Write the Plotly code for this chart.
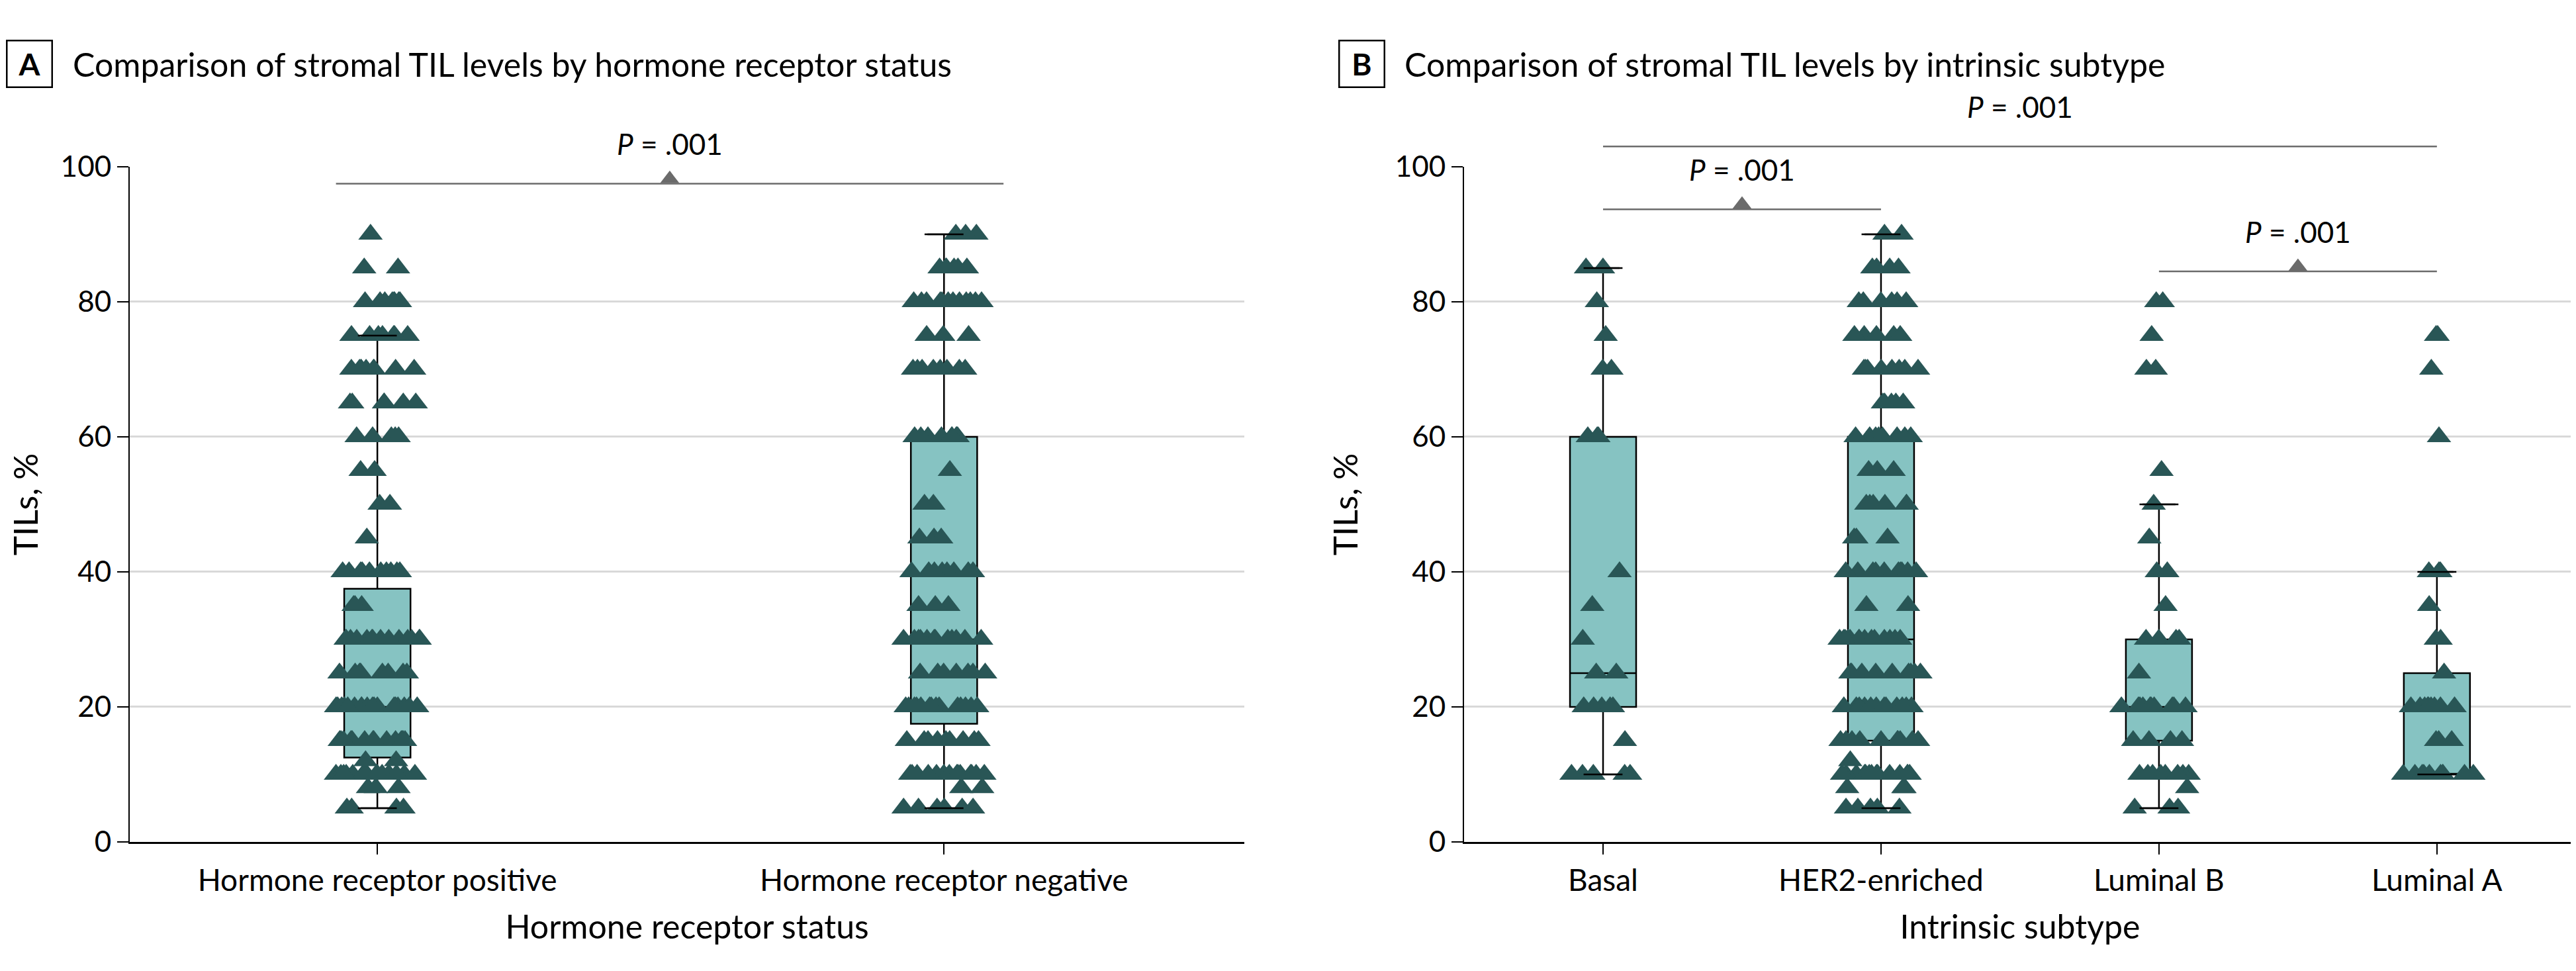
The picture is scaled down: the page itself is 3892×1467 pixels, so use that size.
import plotly.graph_objects as go

# ---------------- data ----------------
hr_categories = ["Hormone receptor positive", "Hormone receptor negative"]
subtype_categories = ["Basal", "HER2-enriched", "Luminal B", "Luminal A"]
y_ticks = [0, 20, 40, 60, 80, 100]

# stromal TIL level (%) and number of patients at that level
hr_pos_levels = [90, 85, 80, 75, 70, 65, 60, 55, 50, 45, 40, 35, 30, 25, 20, 15, 12, 10, 8, 5]
hr_pos_counts = [1, 2, 8, 7, 9, 6, 5, 2, 2, 1, 10, 3, 14, 8, 18, 14, 2, 18, 3, 4]

hr_neg_levels = [90, 85, 80, 75, 70, 60, 55, 50, 45, 40, 35, 30, 25, 20, 15, 10, 8, 5]
hr_neg_counts = [3, 6, 12, 3, 8, 9, 1, 2, 3, 8, 3, 12, 7, 14, 9, 14, 2, 6]

basal_levels = [85, 80, 75, 70, 60, 40, 35, 30, 25, 20, 15, 10]
basal_counts = [2, 1, 1, 2, 3, 1, 1, 1, 2, 5, 1, 5]

her2_levels = [90, 85, 80, 75, 70, 65, 60, 55, 50, 45, 40, 35, 30, 25, 20, 15, 12, 10, 8, 5]
her2_counts = [2, 4, 6, 5, 8, 5, 8, 3, 6, 3, 10, 2, 14, 9, 12, 10, 1, 14, 3, 5]

lumb_levels = [80, 75, 70, 55, 50, 45, 40, 35, 30, 25, 20, 15, 10, 8, 5]
lumb_counts = [2, 1, 2, 1, 1, 1, 2, 1, 4, 1, 10, 4, 8, 1, 3]

luma_levels = [75, 70, 60, 40, 35, 30, 25, 20, 15, 10]
luma_counts = [2, 1, 1, 3, 1, 2, 1, 9, 3, 10]

# box-plot summaries
hr_lower = [5, 5]
hr_q1 = [12.5, 17.5]
hr_median = [20, 30]
hr_q3 = [37.5, 60]
hr_upper = [75, 90]

st_lower = [10, 5, 5, 10]
st_q1 = [20, 15, 15, 10]
st_median = [25, 30, 20, 10]
st_q3 = [60, 60, 30, 25]
st_upper = [85, 90, 50, 40]

# pairwise comparisons: (first, second, P value text)
hr_comparisons = [("Hormone receptor positive", "Hormone receptor negative", ".001")]
st_comparisons = [
    ("Basal", "Luminal A", ".001"),
    ("Basal", "HER2-enriched", ".001"),
    ("Luminal B", "Luminal A", ".001"),
]

# ---------------- style ----------------
FONT = "Lato, 'Open Sans', sans-serif"
TEAL = "#295656"
BOXFILL = "#86c3c2"
GRID = "#d9d9d9"
BRACKET = "#6b6b6b"
XTICK_SIZE = 46
YTICK_SIZE = 44
P_SIZE = 44
TITLE_SIZE = 50
AXTITLE_SIZE = 50
PT_SIZE = 32

W, H = 3892, 1467
YDOM = [0.1384, 0.8337]
XDOM_A = [0.0483, 0.4810]
XDOM_B = [0.5663, 0.9979]
XRANGE_A = [-0.437, 1.53]
XRANGE_B = [-0.5, 3.5]

# bracket heights (data units), label lift, ends padding
hr_bracket_y = [97.5]
hr_bracket_pad = [(-0.073, 0.105)]
st_bracket_y = [103.0, 93.7, 84.5]
st_bracket_pad = [(0, 0), (0, 0), (0, 0)]
LABEL_LIFT = 5.9


def expand(levels, counts):
    out = []
    for v, c in zip(levels, counts):
        out += [v] * c
    return out


def ypaper(v):
    return YDOM[0] + v / 100.0 * (YDOM[1] - YDOM[0])


fig = go.Figure()


def add_panel(xa, ya, cats, groups, lower, q1, med, q3, upper, box_w, pt_w):
    # box with precomputed statistics
    fig.add_trace(go.Box(
        x=cats, q1=q1, median=med, q3=q3, lowerfence=lower, upperfence=upper,
        fillcolor=BOXFILL, line=dict(color="black", width=2.5),
        width=box_w, boxpoints=False, xaxis=xa, yaxis=ya, showlegend=False,
        hoverinfo="skip"))
    # individual patients, jittered by plotly
    xs, ys = [], []
    for c, vals in zip(cats, groups):
        xs += [c] * len(vals)
        ys += vals
    fig.add_trace(go.Box(
        x=xs, y=ys, boxpoints="all", jitter=1, pointpos=0, width=pt_w,
        fillcolor="rgba(0,0,0,0)", line=dict(color="rgba(0,0,0,0)", width=0),
        marker=dict(symbol="triangle-up", size=PT_SIZE, color=TEAL, line=dict(width=0)),
        xaxis=xa, yaxis=ya, showlegend=False))
    # whisker caps
    fig.add_trace(go.Scatter(
        x=list(cats) + list(cats), y=list(upper) + list(lower), mode="markers",
        marker=dict(symbol="line-ew", size=42, color="black",
                    line=dict(width=2.5, color="black")),
        xaxis=xa, yaxis=ya, showlegend=False, cliponaxis=False, hoverinfo="skip"))


add_panel("x", "y", hr_categories,
          [expand(hr_pos_levels, hr_pos_counts), expand(hr_neg_levels, hr_neg_counts)],
          hr_lower, hr_q1, hr_median, hr_q3, hr_upper, 0.117, 0.15)
add_panel("x2", "y2", subtype_categories,
          [expand(basal_levels, basal_counts), expand(her2_levels, her2_counts),
           expand(lumb_levels, lumb_counts), expand(luma_levels, luma_counts)],
          st_lower, st_q1, st_median, st_q3, st_upper, 0.238, 0.30)

shapes, annotations = [], []


def add_brackets(xa, xa_lin, ya, cats, comps, heights, pads):
    mx, my = [], []
    for (a, b, p), h, (pa, pb) in zip(comps, heights, pads):
        i0, i1 = cats.index(a), cats.index(b)
        x0, x1 = i0 + pa, i1 + pb
        shapes.append(dict(type="line", xref=xa, yref="paper", x0=x0, x1=x1,
                           y0=ypaper(h), y1=ypaper(h),
                           line=dict(color=BRACKET, width=2.5)))
        xm = (x0 + x1) / 2
        mx.append(xm)
        my.append(h + 0.7)
        annotations.append(dict(xref=xa, yref="paper", x=xm, y=ypaper(h + LABEL_LIFT),
                                text="<i>P</i> = " + p, showarrow=False,
                                xanchor="center", yanchor="middle",
                                font=dict(size=P_SIZE, color="black", family=FONT)))
    fig.add_trace(go.Scatter(x=mx, y=my, mode="markers", xaxis=xa_lin, yaxis=ya,
                             marker=dict(symbol="triangle-up", size=25, color=BRACKET),
                             cliponaxis=False, showlegend=False, hoverinfo="skip"))


add_brackets("x", "x3", "y", hr_categories, hr_comparisons, hr_bracket_y, hr_bracket_pad)
add_brackets("x2", "x4", "y2", subtype_categories, st_comparisons, st_bracket_y, st_bracket_pad)

# panel labels and titles
for letter, xbox, xtitle, title in [
    ("A", 1 / W, 100 / W, "Comparison of stromal TIL levels by hormone receptor status"),
    ("B", 2014 / W, 2112 / W, "Comparison of stromal TIL levels by intrinsic subtype"),
]:
    annotations.append(dict(xref="paper", yref="paper", x=xbox, y=1 - 89 / H,
                            xanchor="left", yanchor="middle", text=letter, showarrow=False,
                            width=50, height=52, borderpad=8, bordercolor="black",
                            borderwidth=2.5, align="center",
                            font=dict(size=46, color="black", family=FONT, weight="bold")))
    annotations.append(dict(xref="paper", yref="paper", x=xtitle, y=1 - 89 / H,
                            xanchor="left", yanchor="middle", text=title, showarrow=False,
                            font=dict(size=TITLE_SIZE, color="black", family=FONT)))


def xaxis_cfg(domain, rng, title, anchor):
    return dict(domain=domain, range=rng, type="category", showline=True, linecolor="black",
                linewidth=3, ticks="outside", ticklen=16, tickwidth=2, tickcolor="black",
                tickfont=dict(size=XTICK_SIZE, color="black", family=FONT),
                title=dict(text=title, standoff=28,
                           font=dict(size=AXTITLE_SIZE, color="black", family=FONT)),
                showgrid=False, zeroline=False, automargin=False, anchor=anchor)


def yaxis_cfg(xanchor):
    return dict(domain=YDOM, range=[0, 100], tickvals=y_ticks, showline=True,
                linecolor="black", linewidth=2, ticks="outside", ticklen=17, tickwidth=2,
                tickcolor="black", tickfont=dict(size=YTICK_SIZE, color="black", family=FONT),
                showgrid=True, gridcolor=GRID, gridwidth=3, zeroline=False,
                title=dict(text="TILs, %", standoff=40,
                           font=dict(size=AXTITLE_SIZE, color="black", family=FONT)),
                automargin=False, anchor=xanchor)


def overlay_axis(base, rng, anchor):
    return dict(overlaying=base, range=rng, type="linear", visible=False,
                showgrid=False, zeroline=False, anchor=anchor)


fig.update_layout(
    template="none",
    width=W, height=H,
    margin=dict(l=0, r=0, t=0, b=0),
    paper_bgcolor="white", plot_bgcolor="white",
    boxmode="overlay",
    showlegend=False,
    font=dict(family=FONT, color="black", size=YTICK_SIZE),
    xaxis=xaxis_cfg(XDOM_A, XRANGE_A, "Hormone receptor status", "y"),
    xaxis2=xaxis_cfg(XDOM_B, XRANGE_B, "Intrinsic subtype", "y2"),
    xaxis3=overlay_axis("x", XRANGE_A, "y"),
    xaxis4=overlay_axis("x2", XRANGE_B, "y2"),
    yaxis=yaxis_cfg("x"), yaxis2=yaxis_cfg("x2"),
    shapes=shapes, annotations=annotations,
)

fig.write_html("out.html")
